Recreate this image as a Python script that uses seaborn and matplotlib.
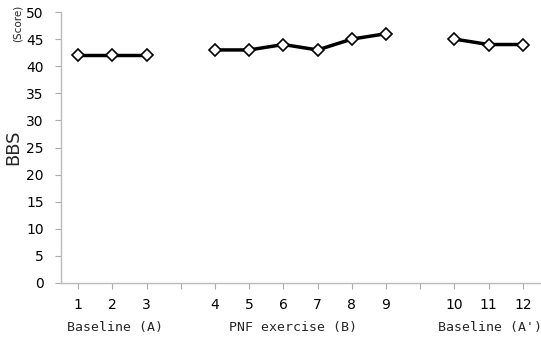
import matplotlib
matplotlib.use("Agg")
import matplotlib.pyplot as plt
import seaborn as sns
import pandas as pd

sessions = [1, 2, 3, 4, 5, 6, 7, 8, 9, 10, 11, 12]
phases = ["Baseline (A)"] * 3 + ["PNF exercise (B)"] * 6 + ["Baseline (A')"] * 3
scores = [42, 42, 42, 43, 43, 44, 43, 45, 46, 45, 44, 44]
phase_names = ["Baseline (A)", "PNF exercise (B)", "Baseline (A')"]

# slot positions leave an empty slot between phases
slot = []
gap = 0
prev = None
for i, p in enumerate(phases):
    if prev is not None and p != prev:
        gap += 1
    slot.append(i + gap)
    prev = p

df = pd.DataFrame({"session": sessions, "phase": phases, "score": scores, "slot": slot})

sns.set_style("white")
fig = plt.figure(figsize=(5.41, 3.38), dpi=100)
ax = fig.add_axes([61/541, 1-283/338, (540-61)/541, (283-12)/338])

for ph in phase_names:
    sub = df[df.phase == ph]
    sns.lineplot(data=sub, x="slot", y="score", ax=ax, color="black", linewidth=2.5,
                 marker="D", markersize=6.5, markerfacecolor="white",
                 markeredgecolor="black", markeredgewidth=1.2)

ax.set_xlim(-0.5, 13.5)
ax.set_ylim(0, 50)
ax.set_yticks(range(0, 51, 5))
ax.set_xticks(range(0, 14))
lab = {s: str(n) for s, n in zip(slot, sessions)}
ax.set_xticklabels([lab.get(i, "") for i in range(14)])
ax.tick_params(axis="both", which="major", direction="out", length=4, width=0.8,
               color="#aaaaaa", labelsize=10, labelcolor="black", left=True, bottom=True)
ax.tick_params(axis="x", pad=6.5)
ax.tick_params(axis="y", pad=8.5)
for s in ["top", "right"]:
    ax.spines[s].set_visible(False)
for s in ["left", "bottom"]:
    ax.spines[s].set_color("#bbbbbb")
    ax.spines[s].set_linewidth(1)
ax.set_xlabel("")
ax.set_ylabel("BBS", fontsize=13, labelpad=3)

# phase labels
centers = [115, 293, 490]
for ph, cx in zip(phase_names, centers):
    fig.text(cx/541, 1-327/338, ph, ha="center", va="center",
             fontsize=9.5, family="DejaVu Sans Mono")
fig.text(18/541, 1-23/338, "(Score)", rotation=90, ha="center", va="center", fontsize=7.5)

fig.savefig("out.png", dpi=100)
